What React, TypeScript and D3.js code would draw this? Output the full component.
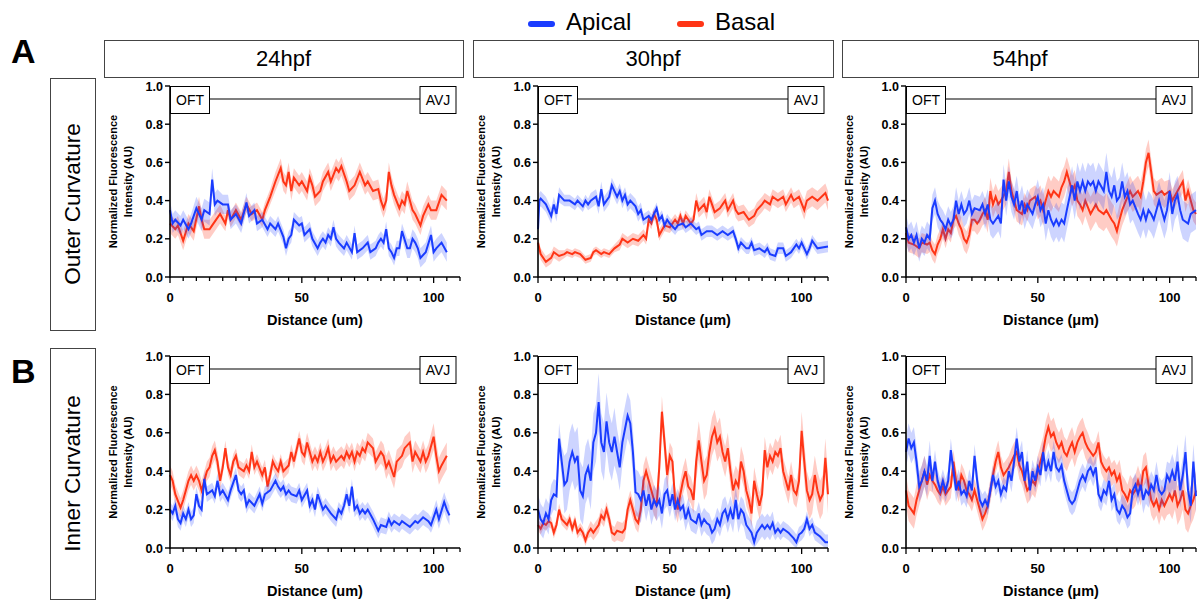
import React from "react";
import * as d3 from "d3";

const FONT = '"Liberation Sans", Arial, Helvetica, sans-serif';
const BLUE = "#1a3cff";
const RED = "#ff3516";

const stages = ["24hpf", "30hpf", "54hpf"];
const regions = ["Outer Curvature", "Inner Curvature"];
const rowLetters = ["A", "B"];
const units = ["um", "\u03bcm", "\u03bcm"];
const yTicks = [0, 0.2, 0.4, 0.6, 0.8, 1.0];
const xMajorTicks = [0, 50, 100];

type Pt = [number, number];

// outer curvature, 24hpf
const outer24Apical: Pt[] = [[0,.35],[1,.28],[2,.3],[4,.27],[5,.3],[7,.25],[8,.28],[10,.36],[12,.3],[13,.35],[15,.33],[16,.51],[17,.38],[18,.4],[20,.38],[22,.38],[23,.3],[25,.33],[27,.28],[29,.39],[30,.32],[32,.35],[33,.28],[35,.3],[37,.25],[38,.28],[40,.25],[41,.28],[43,.21],[44,.15],[45,.2],[46,.22],[47,.3],[49,.27],[50,.28],[51,.22],[53,.25],[54,.2],[56,.15],[57,.18],[58,.2],[59,.18],[60,.22],[61,.2],[62,.26],[63,.2],[64,.18],[66,.15],[67,.18],[69,.13],[70,.23],[71,.13],[73,.15],[75,.18],[76,.13],[78,.15],[79,.18],[80,.2],[81,.18],[82,.25],[83,.15],[84,.13],[85,.1],[86,.15],[87,.15],[88,.24],[90,.15],[91,.15],[92,.2],[93,.18],[94,.15],[95,.1],[97,.13],[99,.22],[100,.13],[101,.15],[103,.18],[105,.13]];
const outer24Basal: Pt[] = [[0,.28],[2,.25],[3,.27],[5,.19],[7,.28],[9,.24],[11,.37],[12,.3],[13,.25],[15,.25],[16,.27],[19,.33],[21,.28],[22,.35],[23,.3],[25,.35],[27,.3],[29,.38],[31,.33],[33,.35],[35,.3],[36,.35],[38,.42],[40,.5],[42,.57],[43,.5],[44,.48],[45,.55],[46,.45],[47,.52],[49,.48],[50,.5],[52,.45],[53,.52],[54,.48],[55,.42],[57,.45],[58,.5],[60,.55],[61,.5],[63,.57],[64,.55],[65,.58],[67,.5],[68,.45],[70,.48],[72,.55],[74,.48],[75,.5],[77,.45],[79,.46],[80,.4],[81,.36],[82,.4],[83,.55],[84,.48],[85,.43],[87,.36],[88,.4],[89,.38],[90,.45],[92,.35],[93,.33],[95,.27],[96,.32],[98,.38],[99,.35],[101,.35],[103,.43],[105,.4]];

// outer curvature, 30hpf
const outer30Apical: Pt[] = [[0,.25],[0.5,.4],[1,.41],[3,.38],[5,.32],[6,.38],[7,.33],[8,.43],[10,.4],[12,.4],[14,.38],[15,.4],[17,.37],[18,.4],[19,.38],[20,.4],[22,.42],[23,.37],[24,.46],[25,.38],[27,.42],[28,.48],[29,.45],[30,.42],[31,.45],[32,.4],[33,.43],[34,.38],[35,.4],[37,.37],[38,.33],[39,.35],[40,.3],[42,.32],[43,.3],[45,.36],[46,.3],[47,.32],[48,.27],[49,.3],[50,.28],[52,.25],[53,.27],[55,.28],[56,.26],[58,.28],[60,.25],[61,.26],[62,.22],[64,.24],[66,.24],[68,.22],[70,.24],[72,.22],[74,.24],[75,.2],[76,.15],[77,.18],[79,.15],[80,.15],[81,.18],[82,.14],[84,.15],[86,.13],[87,.15],[88,.12],[90,.11],[91,.15],[93,.15],[94,.11],[96,.13],[98,.17],[99,.15],[100,.18],[102,.12],[103,.15],[104,.19],[106,.15],[110,.16]];
const outer30Basal: Pt[] = [[0,.18],[1,.12],[3,.08],[5,.1],[6,.13],[8,.11],[10,.12],[11,.13],[13,.12],[14,.13],[16,.12],[18,.09],[20,.1],[21,.13],[22,.14],[24,.12],[25,.13],[27,.12],[29,.15],[31,.17],[32,.2],[34,.18],[36,.2],[38,.19],[40,.22],[41,.2],[42,.3],[43,.28],[44,.33],[45,.3],[46,.22],[48,.27],[50,.26],[52,.3],[53,.28],[54,.32],[55,.28],[56,.32],[58,.28],[59,.3],[60,.4],[61,.35],[63,.38],[64,.34],[65,.42],[66,.38],[67,.34],[69,.36],[70,.38],[71,.4],[72,.35],[74,.4],[75,.35],[76,.33],[78,.34],[80,.3],[82,.32],[83,.35],[85,.38],[86,.4],[88,.38],[89,.42],[91,.4],[93,.42],[94,.38],[96,.43],[97,.4],[99,.42],[101,.35],[102,.4],[104,.42],[106,.4],[109,.44],[110,.4]];

// outer curvature, 54hpf
const outer54Apical: Pt[] = [[0,.26],[1,.2],[2,.22],[3,.18],[4,.22],[5,.15],[6,.2],[7,.18],[8,.22],[9,.2],[10,.36],[11,.4],[12,.33],[13,.3],[14,.28],[15,.25],[16,.3],[17,.27],[18,.3],[19,.4],[20,.33],[21,.38],[22,.33],[23,.35],[24,.4],[25,.33],[26,.36],[28,.35],[29,.38],[30,.33],[31,.38],[32,.3],[33,.28],[34,.3],[35,.32],[36,.28],[37,.51],[38,.4],[39,.5],[40,.42],[41,.38],[42,.45],[43,.35],[44,.4],[45,.33],[46,.38],[48,.33],[49,.38],[50,.42],[51,.35],[52,.38],[53,.28],[54,.35],[55,.3],[56,.27],[57,.3],[58,.27],[59,.3],[60,.28],[61,.35],[63,.48],[64,.4],[65,.5],[66,.45],[67,.5],[68,.45],[69,.5],[70,.48],[71,.5],[72,.45],[73,.5],[75,.45],[76,.55],[77,.45],[78,.42],[79,.48],[80,.4],[81,.42],[82,.5],[83,.42],[84,.45],[85,.38],[86,.4],[88,.33],[89,.3],[90,.35],[91,.3],[92,.35],[93,.33],[94,.3],[96,.4],[97,.35],[98,.3],[99,.35],[100,.45],[101,.33],[102,.4],[103,.43],[104,.35],[105,.3],[107,.28],[108,.33],[110,.35]];
const outer54Basal: Pt[] = [[0,.23],[1,.18],[3,.17],[5,.15],[6,.18],[8,.17],[9,.18],[10,.14],[11,.12],[12,.17],[13,.2],[14,.25],[15,.2],[16,.25],[17,.23],[18,.3],[19,.32],[20,.28],[21,.25],[22,.2],[23,.18],[24,.22],[25,.3],[26,.3],[27,.28],[28,.3],[29,.33],[30,.35],[31,.3],[32,.45],[33,.38],[34,.42],[35,.38],[36,.4],[38,.45],[39,.55],[40,.45],[41,.4],[42,.35],[44,.33],[45,.38],[46,.35],[47,.4],[49,.42],[50,.38],[51,.4],[52,.35],[53,.4],[54,.45],[55,.42],[56,.45],[58,.42],[59,.47],[60,.5],[61,.55],[62,.5],[63,.45],[64,.48],[65,.4],[66,.38],[67,.35],[68,.4],[70,.33],[72,.38],[73,.35],[75,.33],[76,.35],[78,.3],[79,.28],[80,.24],[81,.3],[82,.35],[84,.42],[85,.45],[86,.42],[88,.45],[89,.42],[90,.5],[91,.6],[92,.65],[93,.55],[94,.45],[95,.43],[97,.45],[98,.43],[100,.45],[101,.4],[103,.45],[105,.5],[106,.4],[107,.45],[109,.35],[110,.33]];

// inner curvature, 24hpf
const inner24Apical: Pt[] = [[0,.2],[1,.18],[2,.22],[3,.15],[4,.13],[5,.18],[6,.15],[7,.2],[8,.15],[9,.17],[10,.28],[11,.22],[12,.2],[13,.36],[14,.28],[16,.3],[17,.27],[18,.35],[19,.28],[20,.3],[22,.25],[23,.3],[25,.38],[26,.3],[27,.28],[28,.3],[29,.22],[30,.25],[32,.22],[33,.25],[34,.28],[35,.23],[36,.28],[38,.3],[40,.35],[41,.32],[42,.3],[43,.32],[44,.28],[45,.3],[46,.28],[48,.27],[49,.3],[50,.25],[52,.3],[53,.22],[54,.25],[55,.2],[56,.28],[58,.2],[59,.22],[60,.2],[61,.18],[63,.15],[64,.2],[65,.18],[66,.22],[67,.28],[68,.22],[69,.32],[70,.2],[71,.22],[72,.18],[73,.2],[74,.18],[75,.2],[77,.15],[79,.09],[80,.12],[82,.11],[83,.15],[84,.12],[85,.14],[87,.12],[88,.14],[90,.12],[91,.11],[93,.14],[94,.13],[96,.16],[98,.14],[99,.12],[101,.2],[102,.15],[104,.24],[105,.2],[106,.17]];
const inner24Basal: Pt[] = [[0,.38],[1,.35],[2,.28],[4,.21],[5,.25],[6,.3],[7,.35],[8,.38],[9,.35],[10,.38],[11,.35],[12,.3],[14,.4],[15,.42],[16,.48],[17,.51],[18,.45],[19,.35],[20,.42],[21,.52],[22,.42],[23,.38],[24,.45],[25,.48],[26,.42],[28,.4],[29,.43],[30,.4],[31,.5],[32,.42],[33,.45],[35,.38],[36,.42],[37,.32],[38,.38],[39,.45],[40,.42],[41,.4],[42,.45],[43,.4],[45,.43],[46,.5],[47,.45],[49,.57],[50,.5],[51,.48],[52,.55],[53,.5],[54,.45],[55,.48],[56,.45],[57,.5],[58,.45],[59,.48],[60,.52],[61,.45],[62,.48],[63,.45],[65,.48],[66,.46],[67,.5],[68,.47],[69,.5],[70,.45],[71,.5],[72,.48],[73,.52],[74,.5],[75,.55],[77,.52],[78,.45],[80,.5],[81,.48],[82,.42],[83,.45],[85,.37],[86,.45],[88,.48],[89,.52],[91,.55],[92,.45],[93,.5],[95,.45],[96,.5],[97,.45],[98,.48],[100,.58],[101,.48],[102,.4],[103,.43],[105,.48]];

// inner curvature, 30hpf
const inner30Apical: Pt[] = [[0,.2],[1,.15],[2,.13],[3,.18],[4,.15],[5,.25],[6,.28],[7,.27],[8,.57],[9,.45],[10,.33],[11,.35],[12,.45],[13,.5],[14,.45],[15,.48],[16,.3],[17,.27],[18,.38],[19,.42],[20,.35],[21,.55],[22,.6],[23,.76],[24,.55],[25,.5],[26,.66],[27,.55],[28,.5],[29,.58],[30,.5],[31,.42],[32,.55],[33,.62],[34,.69],[35,.65],[36,.5],[37,.29],[38,.28],[39,.25],[40,.3],[41,.22],[42,.28],[43,.2],[44,.25],[45,.22],[46,.25],[47,.18],[48,.28],[49,.3],[50,.22],[51,.28],[52,.2],[53,.25],[54,.2],[55,.22],[56,.15],[57,.2],[58,.15],[60,.13],[61,.18],[62,.12],[63,.15],[64,.13],[65,.12],[66,.08],[67,.1],[68,.15],[69,.12],[70,.18],[71,.2],[72,.15],[73,.2],[74,.15],[75,.25],[76,.15],[77,.2],[78,.18],[79,.12],[80,.1],[81,.08],[82,.03],[83,.08],[84,.1],[85,.12],[86,.1],[87,.12],[88,.1],[89,.13],[90,.08],[91,.1],[92,.08],[93,.1],[95,.08],[97,.05],[98,.03],[99,.07],[100,.08],[101,.1],[102,.15],[103,.1],[104,.12],[105,.08],[107,.06],[109,.03],[110,.03]];
const inner30Basal: Pt[] = [[0,.12],[1,.1],[2,.13],[3,.12],[4,.14],[5,.13],[6,.08],[7,.12],[8,.2],[9,.15],[11,.12],[12,.15],[13,.1],[14,.14],[15,.08],[16,.1],[17,.08],[18,.04],[19,.08],[20,.1],[21,.08],[22,.1],[23,.12],[24,.17],[25,.15],[26,.2],[27,.15],[28,.08],[29,.07],[30,.09],[32,.08],[33,.1],[34,.2],[35,.25],[36,.2],[37,.15],[38,.13],[39,.2],[40,.35],[41,.4],[42,.35],[43,.3],[44,.25],[45,.22],[46,.42],[47,.71],[48,.55],[49,.38],[50,.48],[51,.45],[52,.25],[53,.2],[54,.28],[55,.35],[56,.4],[57,.32],[58,.3],[59,.25],[60,.45],[61,.56],[62,.45],[63,.35],[64,.38],[65,.5],[66,.58],[67,.62],[68,.55],[69,.58],[70,.5],[71,.45],[72,.52],[73,.4],[74,.3],[75,.35],[76,.32],[77,.45],[78,.4],[79,.3],[80,.25],[81,.18],[82,.35],[83,.28],[84,.22],[85,.28],[86,.51],[87,.42],[88,.48],[89,.45],[90,.5],[91,.48],[92,.52],[93,.4],[94,.35],[95,.3],[96,.38],[97,.3],[98,.28],[99,.35],[100,.61],[101,.45],[102,.3],[103,.25],[104,.28],[105,.38],[106,.3],[107,.25],[108,.28],[109,.47],[110,.28]];

// inner curvature, 54hpf
const inner54Apical: Pt[] = [[0,.5],[1,.57],[2,.52],[3,.55],[4,.45],[5,.32],[6,.35],[7,.4],[8,.35],[9,.48],[10,.35],[11,.45],[12,.35],[13,.3],[14,.35],[15,.3],[16,.35],[17,.51],[18,.4],[19,.3],[20,.35],[21,.28],[22,.3],[23,.27],[24,.35],[25,.3],[26,.48],[27,.35],[28,.25],[29,.22],[30,.25],[31,.22],[32,.3],[33,.38],[34,.32],[35,.35],[36,.28],[37,.32],[38,.3],[39,.4],[40,.35],[41,.45],[42,.57],[43,.45],[44,.5],[45,.35],[46,.45],[47,.3],[48,.4],[49,.35],[50,.42],[51,.38],[52,.5],[53,.4],[54,.45],[55,.4],[56,.5],[57,.42],[58,.4],[59,.43],[60,.35],[61,.3],[62,.25],[63,.23],[64,.25],[65,.3],[66,.35],[67,.38],[68,.35],[69,.4],[70,.42],[71,.38],[72,.42],[73,.28],[74,.25],[75,.3],[76,.28],[77,.35],[78,.25],[79,.28],[80,.2],[81,.18],[82,.22],[83,.2],[84,.16],[85,.18],[86,.3],[87,.33],[88,.28],[89,.33],[90,.25],[91,.3],[92,.28],[93,.33],[94,.3],[95,.38],[96,.3],[97,.28],[98,.3],[99,.38],[100,.35],[101,.4],[102,.35],[103,.45],[104,.3],[105,.38],[106,.5],[107,.3],[108,.22],[109,.45],[110,.27]];
const inner54Basal: Pt[] = [[0,.3],[1,.22],[2,.2],[3,.18],[4,.25],[5,.3],[6,.35],[7,.4],[8,.33],[9,.38],[10,.35],[11,.33],[12,.3],[13,.28],[14,.32],[15,.28],[16,.3],[17,.32],[18,.45],[19,.35],[20,.3],[21,.38],[22,.35],[23,.3],[24,.28],[25,.25],[26,.3],[27,.25],[28,.2],[29,.15],[30,.18],[31,.22],[32,.3],[33,.38],[34,.45],[35,.5],[36,.42],[37,.38],[38,.4],[39,.42],[40,.45],[41,.48],[42,.5],[43,.43],[44,.4],[45,.35],[46,.3],[47,.32],[48,.35],[49,.33],[50,.4],[51,.45],[52,.5],[53,.58],[54,.63],[55,.58],[56,.6],[57,.55],[58,.52],[59,.55],[60,.5],[61,.48],[62,.52],[63,.55],[64,.5],[65,.55],[66,.58],[67,.6],[68,.55],[69,.52],[70,.5],[71,.48],[72,.5],[73,.55],[74,.45],[75,.42],[76,.4],[77,.42],[78,.38],[79,.4],[80,.35],[81,.38],[82,.3],[83,.28],[84,.25],[85,.3],[86,.28],[87,.3],[88,.35],[89,.3],[90,.4],[91,.42],[92,.33],[93,.25],[94,.22],[95,.25],[96,.2],[97,.25],[98,.22],[99,.25],[100,.28],[101,.25],[102,.3],[103,.22],[104,.25],[105,.3],[106,.2],[107,.18],[108,.22],[109,.25],[110,.3]];

// SEM half-widths, one value per 10 um block
const outer24ApicalSem = [.05,.06,.05,.04,.04,.04,.04,.04,.04,.05,.05,.05];
const outer24BasalSem = [.05,.05,.04,.04,.05,.05,.05,.05,.05,.05,.05,.05];
const outer30ApicalSem = [.04,.03,.04,.04,.03,.03,.03,.03,.03,.03,.03,.03];
const outer30BasalSem = [.03,.02,.02,.03,.03,.03,.04,.04,.04,.04,.05,.05];
const outer54ApicalSem = [.07,.07,.07,.08,.08,.09,.1,.1,.1,.1,.1,.1];
const outer54BasalSem = [.05,.05,.06,.07,.06,.08,.08,.09,.08,.07,.06,.06];
const inner24ApicalSem = [.04,.04,.04,.04,.04,.04,.04,.04,.04,.04,.05,.05];
const inner24BasalSem = [.05,.05,.04,.04,.04,.05,.05,.05,.06,.06,.07,.07];
const inner30ApicalSem = [.08,.15,.15,.12,.08,.06,.06,.07,.06,.04,.04,.04];
const inner30BasalSem = [.03,.03,.04,.05,.08,.07,.1,.08,.07,.07,.1,.1];
const inner54ApicalSem = [.08,.06,.06,.05,.06,.06,.06,.06,.06,.07,.09,.09];
const inner54BasalSem = [.08,.06,.06,.06,.07,.08,.08,.06,.08,.08,.1,.1];

const panels = [
  [
    { apical: outer24Apical, basal: outer24Basal, apicalSem: outer24ApicalSem, basalSem: outer24BasalSem },
    { apical: outer30Apical, basal: outer30Basal, apicalSem: outer30ApicalSem, basalSem: outer30BasalSem },
    { apical: outer54Apical, basal: outer54Basal, apicalSem: outer54ApicalSem, basalSem: outer54BasalSem },
  ],
  [
    { apical: inner24Apical, basal: inner24Basal, apicalSem: inner24ApicalSem, basalSem: inner24BasalSem },
    { apical: inner30Apical, basal: inner30Basal, apicalSem: inner30ApicalSem, basalSem: inner30BasalSem },
    { apical: inner54Apical, basal: inner54Basal, apicalSem: inner54ApicalSem, basalSem: inner54BasalSem },
  ],
];

const colLeft = [170, 538, 906];
const plotW = 290;
const rowTop = [86, 356];
const rowBottom = [277, 548];

const semAt = (sem: number[], x: number) => sem[Math.min(Math.floor(x / 10), sem.length - 1)];

const Panel = ({ data, left, top, bottom, unit }) => {
  const x = d3.scaleLinear().domain([0, 110]).range([left, left + plotW]);
  const y = d3.scaleLinear().domain([0, 1]).range([bottom, top]);

  const line = d3.line<Pt>().x((d) => x(d[0])).y((d) => y(d[1]));
  const band = (sem: number[]) =>
    d3.area<Pt>()
      .x((d) => x(d[0]))
      .y0((d) => y(Math.max(0, d[1] - semAt(sem, d[0]))))
      .y1((d) => y(d[1] + semAt(sem, d[0])));

  const minor = x.ticks(22);
  const midX = (x(0) + x(110)) / 2;
  const midY = (top + bottom) / 2;

  return (
    <g>
      <path d={band(data.basalSem)(data.basal)} fill={RED} opacity={0.25} />
      <path d={line(data.basal)} fill="none" stroke={RED} strokeWidth={2} />
      <path d={band(data.apicalSem)(data.apical)} fill={BLUE} opacity={0.22} />
      <path d={line(data.apical)} fill="none" stroke={BLUE} strokeWidth={2} />

      {/* OFT -> AVJ bar */}
      <line x1={left + 39} x2={left + 250} y1={top + 13} y2={top + 13} stroke="#000" strokeWidth={1.2} />
      <rect x={left + 0.5} y={top + 0.5} width={39} height={27} fill="#fff" stroke="#000" strokeWidth={1} />
      <text x={left + 20} y={top + 19} textAnchor="middle" fontSize={14} fontFamily={FONT}>OFT</text>
      <rect x={left + 250} y={top + 0.5} width={36} height={27} fill="#fff" stroke="#000" strokeWidth={1} />
      <text x={left + 268} y={top + 19} textAnchor="middle" fontSize={14} fontFamily={FONT}>AVJ</text>

      {/* axes */}
      <line x1={left} x2={left} y1={top} y2={bottom + 0.75} stroke="#000" strokeWidth={1.6} />
      <line x1={left} x2={left + plotW} y1={bottom} y2={bottom} stroke="#000" strokeWidth={1.6} />
      {yTicks.map((t) => (
        <g key={t}>
          <line x1={left - 5} x2={left} y1={y(t)} y2={y(t)} stroke="#000" strokeWidth={1.4} />
          <text x={left - 7} y={y(t) + 4.5} textAnchor="end" fontSize={12.5} fontWeight="bold" fontFamily={FONT}>
            {t.toFixed(1)}
          </text>
        </g>
      ))}
      {minor.map((t) => (
        <line key={t} x1={x(t)} x2={x(t)} y1={bottom} y2={bottom + (t % 50 === 0 ? 6 : 4)} stroke="#000" strokeWidth={1.3} />
      ))}
      {xMajorTicks.map((t) => (
        <text key={t} x={x(t)} y={bottom + 25} textAnchor="middle" fontSize={13} fontWeight="bold" fontFamily={FONT}>
          {t}
        </text>
      ))}
      <text x={midX} y={bottom + 48} textAnchor="middle" fontSize={14.5} fontWeight="bold" fontFamily={FONT}>
        Distance ({unit})
      </text>
      <text transform={`translate(${left - 53},${midY}) rotate(-90)`} textAnchor="middle" fontSize={11} fontWeight="bold" fontFamily={FONT}>
        Normalized Fluorescence
      </text>
      <text transform={`translate(${left - 38},${midY}) rotate(-90)`} textAnchor="middle" fontSize={11} fontWeight="bold" fontFamily={FONT}>
        Intensity (AU)
      </text>
    </g>
  );
};

const headerX = [104, 473, 842];
const headerW = [359, 360, 356];
const rowBoxY = [78, 348];
const rowBoxH = [252, 251];
const letterY = [63, 383];

const App = () => {
  return (
    <svg width={1200} height={602} style={{ position: "absolute", left: 0, top: 0, background: "#fff" }}>
      <rect width={1200} height={602} fill="#fff" />

      {/* legend */}
      <line x1={531} x2={552} y1={24} y2={24} stroke={BLUE} strokeWidth={6} strokeLinecap="round" />
      <text x={566} y={30} fontSize={24} fontFamily={FONT}>Apical</text>
      <line x1={680} x2={701} y1={24} y2={24} stroke={RED} strokeWidth={6} strokeLinecap="round" />
      <text x={715} y={30} fontSize={24} fontFamily={FONT}>Basal</text>

      {stages.map((s, i) => (
        <g key={s}>
          <rect x={headerX[i] + 0.5} y={40.5} width={headerW[i]} height={37} fill="#fff" stroke="#444" strokeWidth={1} />
          <text x={headerX[i] + headerW[i] / 2} y={66} textAnchor="middle" fontSize={22} fontFamily={FONT}>{s}</text>
        </g>
      ))}

      {regions.map((r, i) => (
        <g key={r}>
          <text x={11} y={letterY[i]} fontSize={34} fontWeight="bold" fontFamily={FONT}>{rowLetters[i]}</text>
          <rect x={50.5} y={rowBoxY[i] + 0.5} width={45} height={rowBoxH[i]} fill="#fff" stroke="#444" strokeWidth={1} />
          <text
            transform={`translate(80,${rowBoxY[i] + rowBoxH[i] / 2}) rotate(-90)`}
            textAnchor="middle"
            fontSize={22.5}
            fontFamily={FONT}
          >
            {r}
          </text>
        </g>
      ))}

      {panels.map((row, ri) =>
        row.map((p, ci) => (
          <Panel key={`${ri}-${ci}`} data={p} left={colLeft[ci]} top={rowTop[ri]} bottom={rowBottom[ri]} unit={units[ci]} />
        ))
      )}
    </svg>
  );
};

export default App;
